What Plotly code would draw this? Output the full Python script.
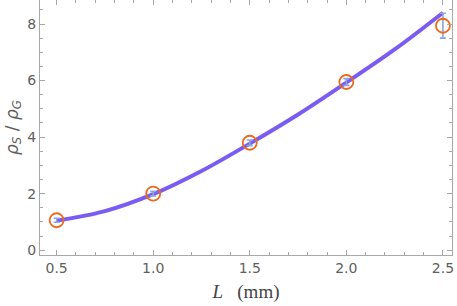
import plotly.graph_objects as go

# measured data
L_data = [0.5, 1.0, 1.5, 2.0, 2.5]
ratio_data = [1.06, 2.0, 3.8, 5.95, 7.94]
ratio_err = [0.07, 0.08, 0.1, 0.12, 0.44]

# fitted curve
L_fit = [0.5, 0.75, 1.0, 1.25, 1.5, 1.75, 2.0, 2.25, 2.5]
ratio_fit = [1.04, 1.38, 1.98, 2.8, 3.77, 4.8, 5.93, 7.1, 8.4]

x_ticks = [0.5, 1.0, 1.5, 2.0, 2.5]
y_ticks = [0, 2, 4, 6, 8]

fig = go.Figure()
fig.add_trace(go.Scatter(
    x=L_fit, y=ratio_fit, mode="lines", line_shape="spline",
    line=dict(color="#7B5CF2", width=4), showlegend=False, hoverinfo="skip"))
fig.add_trace(go.Scatter(
    x=L_data, y=ratio_data, mode="markers",
    error_y=dict(type="data", array=ratio_err, color="#8AA6DA", thickness=1.6, width=3),
    marker=dict(symbol="circle-open", size=14, color="#EB6A1E", line=dict(width=1.8)),
    showlegend=False))

axis_common = dict(
    showline=True, linecolor="#A8A8A8", linewidth=1, mirror="ticks",
    ticks="inside", ticklen=5, tickcolor="#A8A8A8", tickwidth=1,
    showgrid=False, zeroline=False, automargin=False,
    tickfont=dict(family="DejaVu Sans", size=14, color="#606060"),
)

fig.update_xaxes(
    range=[0.414, 2.547], tickvals=x_ticks, ticktext=["0.5", "1.0", "1.5", "2.0", "2.5"],
    minor=dict(dtick=0.1, ticks="inside", ticklen=3, tickcolor="#A8A8A8", showgrid=False),
    title=dict(text="<i>L</i>&nbsp;&nbsp;&nbsp;(mm)",
               font=dict(family="Liberation Serif", size=19, color="#444444"), standoff=9),
    **axis_common)
fig.update_yaxes(
    range=[-0.17, 8.85], tickvals=y_ticks,
    minor=dict(dtick=0.5, ticks="inside", ticklen=3, tickcolor="#A8A8A8", showgrid=False),
    title=dict(text="<i>ρ</i><sub><i>S</i></sub> / <i>ρ</i><sub><i>G</i></sub>",
               font=dict(family="DejaVu Sans", size=17, color="#606060"), standoff=4),
    **axis_common)

fig.update_layout(
    width=457, height=306,
    margin=dict(l=40, r=5, t=0, b=51),
    plot_bgcolor="white", paper_bgcolor="white",
)

fig.write_html("out.html", config={"displayModeBar": False},
               post_script="document.body.style.margin='0';")
